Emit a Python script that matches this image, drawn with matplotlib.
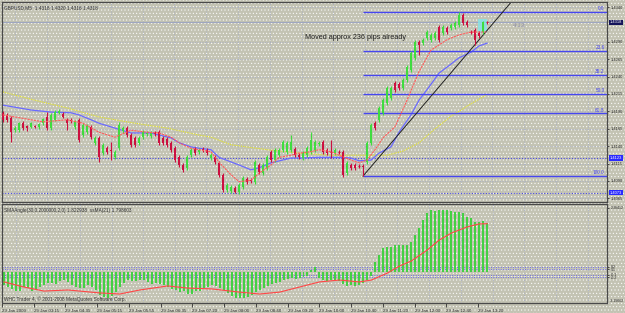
import numpy as np
import matplotlib
matplotlib.use('Agg')
import matplotlib.pyplot as plt
from matplotlib.patches import Rectangle

plt.rcParams['font.family'] = ['Liberation Sans', 'DejaVu Sans']
plt.rcParams['hatch.color'] = 'white'
plt.rcParams['hatch.linewidth'] = 0.35

# GBPUSD M5 candles, in pips above 1.4000
open_pips = [188, 185, 181, 163, 163, 173, 169, 168, 169, 168,
             173, 182, 166, 178, 188, 186, 178, 178, 168, 178,
             156, 160, 168, 145, 152, 130, 137, 135, 124, 137,
             162, 166, 156, 152, 145, 153, 157, 155, 159, 160,
             152, 150, 145, 137, 124, 113, 109, 127, 136, 132,
             136, 135, 123, 124, 116, 99, 77, 76, 80, 74,
             81, 93, 91, 89, 113, 101, 109, 132, 120, 127,
             135, 132, 135, 136, 127, 123, 127, 132, 135, 143,
             146, 135, 132, 130, 132, 132, 101, 113, 113, 112,
             112, 117, 145, 173, 178, 188, 202, 209, 231, 229,
             224, 235, 249, 267, 290, 288, 295, 293, 295, 311,
             303, 310, 310, 311, 314, 329, 318, 304, 307, 303,
             304, 318]
close_pips = [178, 178, 160, 166, 173, 166, 166, 173, 168, 172,
              179, 166, 185, 189, 191, 182, 173, 176, 176, 149,
              170, 169, 153, 152, 124, 142, 132, 133, 132, 170,
              166, 156, 142, 142, 152, 160, 159, 159, 157, 145,
              145, 142, 135, 120, 113, 106, 124, 135, 130, 135,
              135, 130, 127, 117, 99, 77, 84, 81, 74, 84,
              94, 89, 90, 117, 103, 113, 124, 120, 135, 135,
              146, 145, 146, 127, 124, 130, 137, 149, 146, 145,
              132, 130, 132, 135, 132, 99, 116, 109, 109, 112,
              110, 145, 170, 166, 195, 206, 224, 224, 221, 224,
              235, 254, 274, 290, 285, 293, 304, 300, 303, 293,
              311, 304, 314, 317, 329, 317, 314, 304, 293, 299,
              318, 318]
high_pips = [191, 188, 183, 169, 175, 176, 171, 175, 171, 174,
             181, 189, 188, 192, 193, 189, 180, 180, 178, 181,
             173, 172, 171, 155, 155, 145, 140, 146, 135, 175,
             169, 169, 159, 155, 155, 163, 162, 162, 162, 163,
             155, 153, 148, 140, 127, 116, 127, 138, 139, 138,
             139, 138, 130, 127, 119, 102, 87, 84, 83, 87,
             97, 96, 94, 120, 116, 116, 127, 135, 138, 138,
             149, 148, 156, 139, 130, 133, 140, 160, 149, 148,
             149, 138, 149, 138, 135, 135, 119, 116, 116, 115,
             115, 148, 173, 176, 198, 209, 227, 227, 234, 232,
             238, 257, 277, 293, 293, 296, 307, 303, 306, 314,
             314, 313, 317, 320, 333, 332, 321, 307, 310, 306,
             320, 320]
low_pips = [175, 175, 146, 161, 160, 163, 162, 166, 166, 165,
            171, 163, 163, 176, 186, 180, 163, 174, 165, 146,
            153, 157, 150, 142, 117, 127, 129, 120, 121, 134,
            159, 153, 139, 139, 142, 150, 154, 152, 154, 142,
            142, 139, 132, 117, 110, 103, 106, 124, 127, 129,
            132, 127, 120, 114, 96, 74, 74, 73, 73, 71,
            78, 86, 87, 86, 100, 98, 106, 117, 117, 124,
            132, 129, 132, 124, 121, 120, 124, 129, 132, 140,
            129, 127, 123, 127, 129, 96, 98, 106, 106, 109,
            97, 114, 142, 163, 175, 185, 199, 206, 218, 221,
            221, 232, 246, 264, 271, 285, 292, 290, 292, 290,
            300, 301, 307, 308, 311, 314, 311, 301, 285, 296,
            301, 316]

# moving averages read at a few bars (bar index, pips above 1.4000)
red_ma_bar = [0, 10, 16, 20, 24, 28, 32, 36, 39, 42, 44, 47, 49, 52, 54, 57, 59, 62, 64, 67,
              69, 72, 74, 77, 79, 82, 84, 87, 89, 91, 93, 95, 98, 101, 104, 107, 111, 114, 117, 121]
red_ma_pips = [185, 175, 178, 173, 160, 153, 163, 160, 159, 153, 145, 137, 135, 132, 117, 99, 89, 91, 101, 113,
               124, 127, 130, 132, 135, 132, 127, 120, 116, 120, 135, 152, 168, 206, 247, 278, 293, 300, 304, 304]
blue_ma_bar = [0, 7, 12, 17, 19, 22, 24, 28, 32, 37, 39, 42, 44, 47, 49, 52, 54, 59, 62, 64,
               67, 72, 74, 79, 84, 87, 89, 92, 94, 97, 99, 102, 104, 107, 109, 112, 114, 117, 119, 121]
blue_ma_pips = [199, 192, 189, 188, 185, 178, 173, 166, 159, 159, 156, 152, 145, 139, 137, 135, 124, 113, 106, 109,
                116, 123, 123, 124, 124, 123, 119, 120, 130, 139, 160, 185, 206, 229, 245, 258, 267, 275, 284, 288]
yellow_ma_bar = [0, 8, 16, 24, 33, 41, 49, 52, 57, 66, 74, 82, 91, 96, 100, 104, 108, 112, 117, 121]
yellow_ma_pips = [218, 206, 195, 182, 173, 166, 156, 153, 142, 135, 130, 127, 127, 127, 133, 145, 165, 183, 201, 214]

# fibonacci retracement from the 1.4097 low to the 1.4333 high
fib_levels = [0.0, 23.6, 38.2, 50.0, 61.8, 100.0]
fib_high = 1.4333
fib_low = 1.4097
fib_start_bar = 90
# trend line anchors (bar, price)
trend_bars = [90, 110]
trend_prices = [1.4097, 1.4232]

bid = 1.4318
alert_lines = [1.4123, 1.4073]

# SMAAngle histogram and its ssMA(21) signal
angle_hist = [-0.48, -0.56, -0.63, -0.71, -0.71, -0.56, -0.60, -0.71, -0.63, -0.56,
              -0.48, -0.41, -0.41, -0.45, -0.34, -0.30, -0.37, -0.48, -0.56, -0.60,
              -0.60, -0.48, -0.56, -0.67, -0.86, -0.93, -0.97, -0.89, -0.75, -0.56,
              -0.41, -0.30, -0.34, -0.34, -0.30, -0.30, -0.37, -0.45, -0.41, -0.45,
              -0.48, -0.56, -0.63, -0.67, -0.75, -0.71, -0.82, -0.82, -0.71, -0.71,
              -0.60, -0.56, -0.48, -0.52, -0.60, -0.67, -0.78, -0.89, -0.97, -0.97,
              -0.97, -0.93, -0.86, -0.75, -0.67, -0.60, -0.52, -0.45, -0.41, -0.37,
              -0.30, -0.26, -0.22, -0.26, -0.22, -0.19, -0.15, 0.07, 0.19, -0.22,
              -0.30, -0.34, -0.30, -0.30, -0.34, -0.45, -0.52, -0.48, -0.52, -0.48,
              -0.41, -0.30, -0.15, 0.37, 0.63, 0.89, 0.93, 0.93, 1.01, 1.01,
              1.01, 1.01, 1.12, 1.38, 1.64, 1.94, 2.20, 2.31, 2.27, 2.31,
              2.31, 2.31, 2.27, 2.24, 2.24, 2.20, 2.05, 2.01, 1.86, 1.86,
              1.90, 1.82]
signal_bar = [0, 5, 10, 16, 24, 29, 34, 41, 46, 52, 59, 64, 69, 74, 79, 84, 89, 92, 96, 99,
              102, 106, 109, 112, 116, 119, 121]
signal_val = [-0.37, -0.56, -0.71, -0.67, -0.78, -0.82, -0.67, -0.52, -0.60, -0.63, -0.75, -0.82, -0.75,
              -0.56, -0.37, -0.30, -0.37, -0.30, -0.04, 0.22, 0.41, 0.82, 1.19, 1.45, 1.68, 1.79, 1.80]
angle_levels = [0.2, 0.1, -0.1, -0.2]

time_labels = ['29 Jan 2009', '29 Jan 03:15', '29 Jan 04:35', '29 Jan 05:15', '29 Jan 05:55',
               '29 Jan 06:35', '29 Jan 07:20', '29 Jan 08:00', '29 Jan 08:40', '29 Jan 09:20',
               '29 Jan 10:00', '29 Jan 10:40', '29 Jan 11:20', '29 Jan 12:00', '29 Jan 12:40',
               '29 Jan 13:20']

o = 1.4 + np.array(open_pips) / 10000
c = 1.4 + np.array(close_pips) / 10000
h = 1.4 + np.array(high_pips) / 10000
l = 1.4 + np.array(low_pips) / 10000
idx = np.arange(len(o))

bg = '#c3c3b3'
grid_col = '#a3abc8'
up_col = '#3fdc3f'
dn_col = '#cc1040'
fib_col = '#4646f0'
txt_col = '#303030'
axis_fs = 2.9

fig = plt.figure(figsize=(6.25, 3.13), dpi=100)
fig.patch.set_facecolor(bg)
fig.patches.append(Rectangle((0, 0), 1, 1, transform=fig.transFigure, facecolor='none',
                             edgecolor='white', hatch='.....', lw=0, zorder=-1))

ax = fig.add_axes([2 / 625, 111 / 313, 605 / 625, 200 / 313])
ax2 = fig.add_axes([2 / 625, 10 / 313, 605 / 625, 99 / 313])
xmax = 151
label_pos = np.arange(len(time_labels)) * 7.95 - 0.5
grid_pos = np.arange(19) * 7.95 + 3.1

for a in (ax, ax2):
    a.set_facecolor('none')
    a.set_xlim(-0.25, xmax)
    for s in a.spines.values():
        s.set_color('#4a4a4a')
        s.set_linewidth(0.9)
    for gx in grid_pos:
        a.axvline(gx, color=grid_col, lw=0.6, ls=(0, (1, 2)), zorder=0)

# ---- price panel ----
ax.set_ylim(1.40598, 1.43472)
price_ticks = [1.4340 - 0.0025 * k for k in range(12) if k != 1]
for py in price_ticks:
    ax.axhline(py, color=grid_col, lw=0.6, ls=(0, (1, 2)), zorder=0)
ax.axhline(bid, color='#9ea6c0', lw=0.8, zorder=1)
for py in alert_lines:
    ax.axhline(py, color='#4848e0', lw=0.8, ls=(0, (1, 1.5)), zorder=1)

# highlighted box round the last bars
ax.add_patch(Rectangle((118.8, 1.4303), 2.3, 0.0020, facecolor='#86e2e6', edgecolor='none',
                       alpha=0.85, zorder=1))

ax.plot(yellow_ma_bar, 1.4 + np.array(yellow_ma_pips) / 10000, color='#e6e620', lw=0.8,
        ls=(0, (1, 1)), zorder=2)
ax.plot(blue_ma_bar, 1.4 + np.array(blue_ma_pips) / 10000, color='#6a6aff', lw=0.9, zorder=2)

fib_prices = [fib_high - lv / 100 * (fib_high - fib_low) for lv in fib_levels]
ax.hlines(fib_prices, fib_start_bar, xmax, color=fib_col, lw=1.0, zorder=2)
for lv, fp in zip(fib_levels, fib_prices):
    ax.text(150.4, fp + 0.00012, f'{lv:.1f}', ha='right', va='bottom', fontsize=3.4, color=fib_col)

slope = (trend_prices[1] - trend_prices[0]) / (trend_bars[1] - trend_bars[0])
ax.plot([trend_bars[0], xmax], [trend_prices[0], trend_prices[0] + slope * (xmax - trend_bars[0])],
        color='#202020', lw=0.7, zorder=2)

cols = np.where(c > o, up_col, dn_col)
ax.vlines(idx, l, h, colors=cols, lw=0.8, zorder=3)
ax.bar(idx, c - o, bottom=o, width=0.68, color=cols, lw=0, zorder=4)
doji = np.isclose(c, o)
ax.hlines(o[doji], idx[doji] - 0.34, idx[doji] + 0.34, colors=dn_col, lw=0.8, zorder=4)

ax.plot(red_ma_bar, 1.4 + np.array(red_ma_pips) / 10000, color='#ff5a5a', lw=0.8,
        ls=(0, (2, 0.8)), zorder=5)

ax.text(75.5, 1.42955, 'Moved approx 236 pips already', fontsize=5.2, color='#202020',
        va='center', ha='left')
ax.text(127.5, 1.4314, '4:13', fontsize=4.5, color='#8c8ca4', va='center')
ax.text(0.004, 0.985, 'GBPUSD,M5  1.4318 1.4320 1.4316 1.4318', transform=ax.transAxes,
        fontsize=3.4, color=txt_col, va='top')

ax.yaxis.tick_right()
ax.set_yticks(price_ticks)
ax.set_yticklabels([f'{p:.4f}' for p in price_ticks])
ax.tick_params(axis='y', length=1.5, width=0.6, pad=1, labelsize=axis_fs, colors=txt_col)
ax.set_xticks([])

ytr = ax.get_yaxis_transform()
box_specs = [(bid, '#14145a'), (alert_lines[0], '#2a2aff'), (alert_lines[1], '#2a2aff')]
for py, fc in box_specs:
    ax.text(1.005, py, f'{py:.4f}', transform=ytr, fontsize=axis_fs, color='white', va='center',
            ha='left', bbox=dict(facecolor=fc, edgecolor='none', pad=0.5), zorder=6)

# ---- indicator panel ----
ax2.set_ylim(-1.155, 2.533)
for lv in angle_levels:
    ax2.axhline(lv, color='#6c6ce6', lw=0.7, ls=(0, (1, 1.5)), zorder=1)
ax2.bar(idx, angle_hist, width=0.5, color='#44d044', lw=0, zorder=2)
ax2.plot(signal_bar, signal_val, color='#ff4646', lw=0.8, zorder=3)

ax2.yaxis.tick_right()
ax2.set_yticks([2.38412] + angle_levels)
ax2.set_yticklabels(['2.38412'] + [f'{v:.1f}' for v in angle_levels])
ax2.tick_params(axis='y', length=1.5, width=0.6, pad=1, labelsize=2.6, colors=txt_col)
ax2.text(1.005, 0.0, '-3.19662', transform=ax2.transAxes, fontsize=2.6, color=txt_col,
         va='bottom', ha='left')
ax2.text(0.004, 0.96, 'SMAAngle(30,0.2000000,2,0) 1.822938  ssMA(21) 1.798603',
         transform=ax2.transAxes, fontsize=3.4, color=txt_col, va='top')
ax2.text(0.004, 0.01, 'WHC Trader 4, \u00a9 2001-2008 MetaQuotes Software Corp.',
         transform=ax2.transAxes, fontsize=3.4, color=txt_col, va='bottom')

ax2.set_xticks(label_pos)
ax2.set_xticklabels(time_labels)
for lab in ax2.get_xticklabels():
    lab.set_ha('left')
ax2.tick_params(axis='x', length=3, width=0.6, pad=1, labelsize=3.2, colors=txt_col)

fig.savefig('out.png', dpi=100, facecolor=bg)
